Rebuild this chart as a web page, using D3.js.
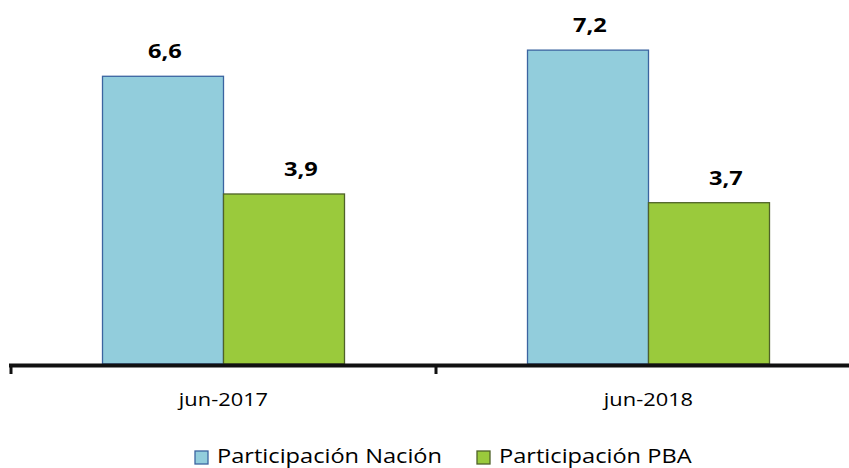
<!DOCTYPE html>
<html>
<head>
<meta charset="utf-8">
<script src="https://cdn.jsdelivr.net/npm/d3@7"></script>
<style>
  body { margin: 0; background: #fff; }
  svg { display: block; font-family: "Open Sans", Lato, sans-serif; }
</style>
</head>
<body>
<svg width="849" height="468"></svg>
<script>
const width = 849;
const height = 468;

// data
const categories = ["jun-2017", "jun-2018"];
const seriesNames = ["Participación Nación", "Participación PBA"];
const nacion = [6.6, 7.2];
const pba = [3.9, 3.7];
const valueLabels = [["6,6", "7,2"], ["3,9", "3,7"]];

const fills = ["#92CDDC", "#9ACA3C"];
const strokes = ["#3B64A0", "#4F6228"];
const labelShift = [2, 17];

// the reference text looks a bit wide, stretch glyphs horizontally
const stretch = 1.18;
function widen(sel) {
    sel.each(function() {
        const w = this.getComputedTextLength();
        d3.select(this)
            .attr("textLength", w * stretch)
            .attr("lengthAdjust", "spacingAndGlyphs");
    });
}

const svg = d3.select("svg");

const x = d3.scaleBand()
    .domain(categories)
    .range([11, 861]);

const inner = d3.scaleBand()
    .domain(seriesNames)
    .range([0, 242]);

const y = d3.scaleLinear()
    .domain([0, 8.35])
    .range([364, 0]);

const series = [nacion, pba];

series.forEach((vals, s) => {
    const g = svg.append("g");
    const bx = (d, i) => x(categories[i]) + x.bandwidth() / 2 - 121 + inner(seriesNames[s]);

    g.selectAll("rect")
        .data(vals)
        .join("rect")
        .attr("x", bx)
        .attr("y", d => y(d))
        .attr("width", inner.bandwidth())
        .attr("height", d => y(0) - y(d))
        .attr("fill", fills[s])
        .attr("stroke", strokes[s])
        .attr("stroke-width", 1.3);

    g.selectAll("text")
        .data(vals)
        .join("text")
        .attr("x", (d, i) => bx(d, i) + inner.bandwidth() / 2 + labelShift[s])
        .attr("y", d => y(d) - 18)
        .attr("text-anchor", "middle")
        .attr("font-size", 20)
        .attr("font-weight", "bold")
        .attr("fill", "#000")
        .text((d, i) => valueLabels[s][i])
        .call(widen);
});

// x axis: thick line with ticks at band edges
const axis = svg.append("g");
axis.append("line")
    .attr("x1", 9).attr("x2", width)
    .attr("y1", 365.5).attr("y2", 365.5)
    .attr("stroke", "#111").attr("stroke-width", 4);

axis.selectAll(".tick")
    .data(categories)
    .join("line")
    .attr("class", "tick")
    .attr("x1", d => x(d)).attr("x2", d => x(d))
    .attr("y1", 364).attr("y2", 374)
    .attr("stroke", "#111").attr("stroke-width", 3);

axis.selectAll(".cat")
    .data(categories)
    .join("text")
    .attr("class", "cat")
    .attr("x", d => x(d) + x.bandwidth() / 2)
    .attr("y", 406)
    .attr("text-anchor", "middle")
    .attr("font-size", 18.5)
    .attr("fill", "#000")
    .text(d => d)
    .call(widen);

// legend
const legendX = [195, 477];
const legend = svg.append("g");
seriesNames.forEach((name, s) => {
    legend.append("rect")
        .attr("x", legendX[s]).attr("y", 451)
        .attr("width", 13).attr("height", 13)
        .attr("fill", fills[s])
        .attr("stroke", strokes[s])
        .attr("stroke-width", 1.3);
    legend.append("text")
        .attr("x", legendX[s] + 22)
        .attr("y", 463)
        .attr("font-size", 20)
        .attr("fill", "#000")
        .text(name)
        .call(widen);
});
</script>
</body>
</html>
